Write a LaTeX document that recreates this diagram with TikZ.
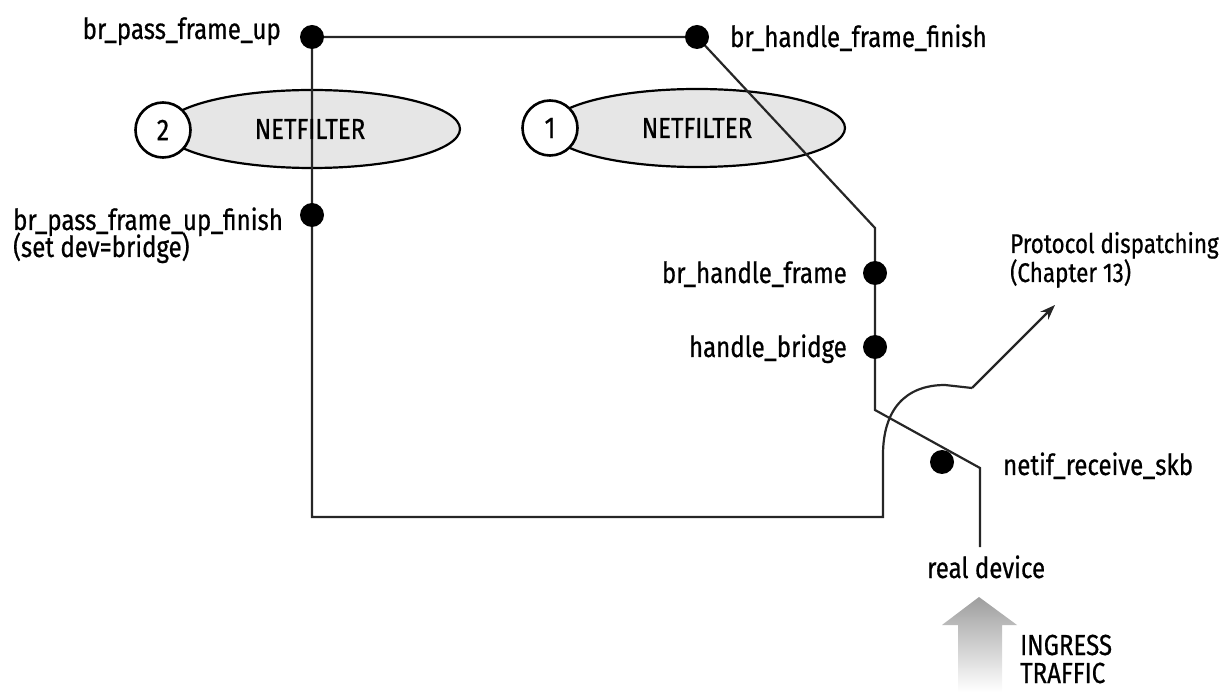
\documentclass[tikz,border=0pt]{standalone}
\usepackage{fontspec}
\setmainfont{Fira Sans}[FakeStretch=0.83,FakeBold=0.6]
\usetikzlibrary{arrows.meta,shapes.geometric}
\definecolor{efill}{HTML}{E6E6E6}
\begin{document}
\begin{tikzpicture}[x=1pt,y=-1pt,
  lbl/.style={inner sep=0pt,font=\fontsize{29}{31}\selectfont},
  dot/.style={circle,fill=black,minimum size=24pt,inner sep=0pt},
  netf/.style={ellipse,draw=black,line width=2.2pt,fill=efill,minimum width=296pt,minimum height=78pt,inner sep=0pt},
  hook/.style={circle,draw=black,line width=2.6pt,fill=white,minimum size=55pt,inner sep=0pt,font=\fontsize{30}{32}\selectfont},
  wire/.style={line width=2.2pt,black!85},
]
\useasboundingbox (0,0) rectangle (1219,692);
% netfilter hooks
\node[netf] (nf2) at (312,129) {};
\node[hook] (h2) at (163,130) {2};
\node[netf] (nf1) at (697,128) {};
\node[hook] (h1) at (550,128) {1};
% points
\coordinate (bpfu) at (312,37);
\coordinate (bhff) at (697,37);
\coordinate (bpfuf) at (312,215);
\coordinate (bhf) at (875,273);
\coordinate (hb) at (875,347);
\coordinate (c1) at (875,228);
\coordinate (c2) at (875,410);
\coordinate (c3) at (980,468);
\coordinate (dev) at (980,547);
\coordinate (bl) at (312,517);
\coordinate (br) at (883,517);
\coordinate (up) at (883,455);
\coordinate (top) at (945,385);
\coordinate (kink) at (972,388);
\coordinate (proto) at (1055,305);
% wires
\draw[wire] (bhff) -- (bpfu) -- (bpfuf) -- (bl) -- (br) -- (up)
  .. controls (883,410) and (905,385) .. (top) -- (kink);
\draw[wire,-{Stealth[length=15pt,width=11pt]}] (kink) -- (proto);
\draw[wire] (bhff) -- (c1) -- (bhf) -- (hb) -- (c2) -- (c3) -- (dev);
% dots
\node[dot] (d1) at (bpfu) {};
\node[dot] (d2) at (bhff) {};
\node[dot] (d3) at (bpfuf) {};
\node[dot] (d4) at (bhf) {};
\node[dot] (d5) at (hb) {};
\node[dot] (d6) at (942,462) {};
% ellipse labels
\node[lbl] (nt2) at (310,129) {NETFILTER};
\node[lbl] (nt1) at (697,128) {NETFILTER};
% labels
\node[lbl,anchor=base east] (l1) at (281,39) {br\_pass\_frame\_up};
\node[lbl,anchor=base west] (l2) at (730,47) {br\_handle\_frame\_finish};
\node[lbl,anchor=base west] (l3) at (13,230) {br\_pass\_frame\_up\_finish};
\node[lbl,anchor=base west] (l3b) at (13,257) {(set dev=bridge)};
\node[lbl,anchor=base east] (l4) at (847,283) {br\_handle\_frame};
\node[lbl,anchor=base east] (l5) at (847,357) {handle\_bridge};
\node[lbl,anchor=base west,font=\fontsize{27}{29}\selectfont] (l6) at (1010,253) {Protocol dispatching};
\node[lbl,anchor=base west,font=\fontsize{27}{29}\selectfont] (l6b) at (1010,282) {(Chapter 13)};
\node[lbl,anchor=base west] (l7) at (1003,475) {netif\_receive\_skb};
\node[lbl,anchor=base west] (l8) at (927,578) {real device};
% ingress arrow
\shade[top color=black!38,bottom color=white]
  (958,692) -- (958,625) -- (942,625) -- (979,597) -- (1017,625) -- (1002,625) -- (1002,692) -- cycle;
\node[lbl,anchor=base west] (l9) at (1020,655) {INGRESS};
\node[lbl,anchor=base west] (l9b) at (1020,683) {TRAFFIC};
\end{tikzpicture}
\end{document}
